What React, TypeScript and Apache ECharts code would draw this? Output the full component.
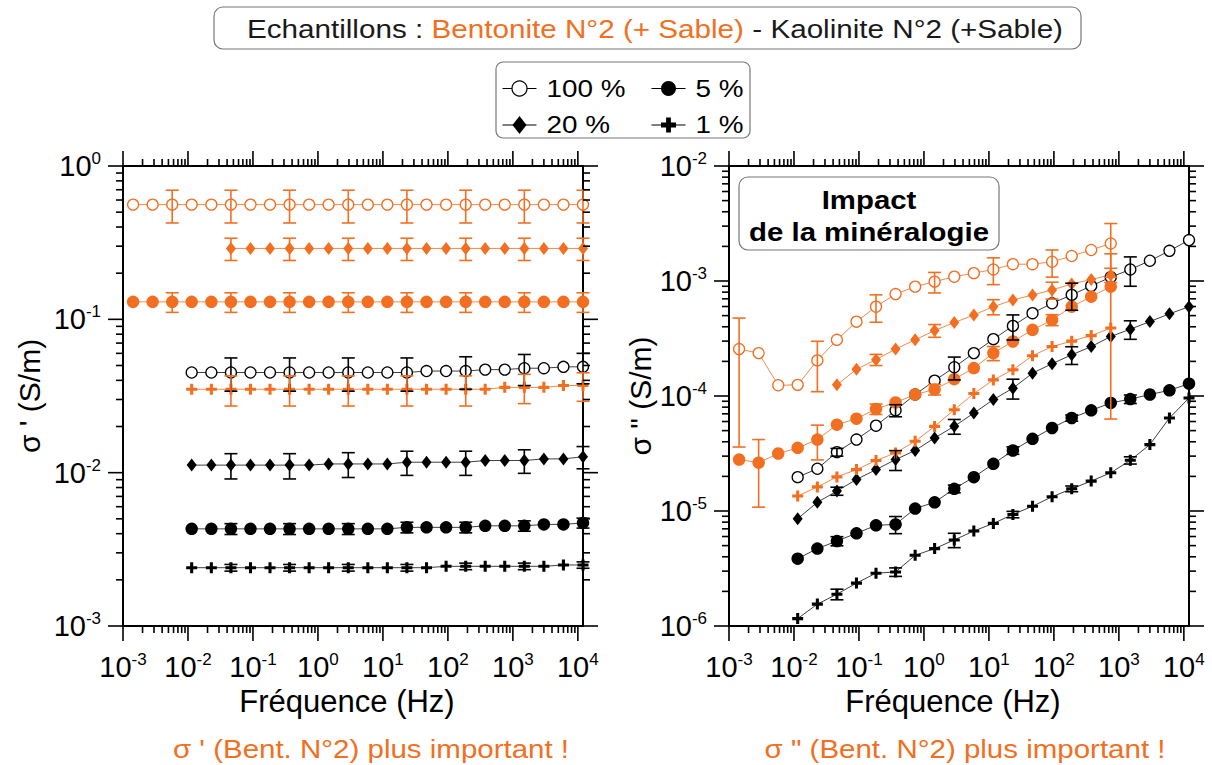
import React, { useEffect, useRef } from 'react';
import * as echarts from 'echarts';

const FONT = "'Liberation Sans', Arial, Helvetica, sans-serif";
const ORANGE = '#f26f21';
const ORANGE_LINE = '#f48a4c';
const BLACK = '#000000';
const BLACK_LINE = '#404040';
const n = null;

// Frequencies (Hz) of the measurement points
const FREQ = [0.00143, 0.00286, 0.00572, 0.0114, 0.0229, 0.0458, 0.0916, 0.183, 0.366, 0.732, 1.46, 2.93, 5.86, 11.7, 23.4, 46.9, 93.8, 188, 375, 750, 1500, 3000, 6000, 12000];

// ---- Left panel: sigma' (S/m)
const L_B100 = [0.56, 0.56, 0.56, 0.56, 0.56, 0.56, 0.56, 0.56, 0.56, 0.56, 0.56, 0.56, 0.56, 0.56, 0.56, 0.56, 0.56, 0.56, 0.56, 0.56, 0.56, 0.56, 0.56, 0.56];
const L_B100_E = [n, n, 0.135, n, n, 0.135, n, n, 0.135, n, n, 0.135, n, n, 0.135, n, n, 0.135, n, n, 0.135, n, n, 0.135];
const L_B20 = [n, n, n, n, n, 0.29, 0.29, 0.29, 0.29, 0.29, 0.29, 0.29, 0.29, 0.29, 0.29, 0.29, 0.29, 0.29, 0.29, 0.29, 0.29, 0.29, 0.29, 0.29];
const L_B20_E = [n, n, n, n, n, 0.048, n, n, 0.048, n, n, 0.048, n, n, 0.048, n, n, 0.048, n, n, 0.048, n, n, 0.048];
const L_B5 = [0.13, 0.13, 0.13, 0.13, 0.13, 0.13, 0.13, 0.13, 0.13, 0.13, 0.13, 0.13, 0.13, 0.13, 0.13, 0.13, 0.13, 0.13, 0.13, 0.13, 0.13, 0.13, 0.13, 0.13];
const L_B5_E = [n, n, 0.019, n, n, 0.019, n, n, 0.019, n, n, 0.019, n, n, 0.019, n, n, 0.019, n, n, 0.019, n, n, 0.019];
const L_B1 = [n, n, n, 0.035, 0.035, 0.035, 0.035, 0.035, 0.035, 0.035, 0.035, 0.035, 0.035, 0.035, 0.035, 0.035, 0.035, 0.035, 0.035, 0.036, 0.036, 0.036, 0.037, 0.037];
const L_B1_E = [n, n, n, n, n, 0.0078, n, n, 0.0078, n, n, 0.0078, n, n, 0.0078, n, n, 0.0078, n, n, 0.0078, n, n, 0.0078];
const L_K100 = [n, n, n, 0.045, 0.045, 0.045, 0.045, 0.045, 0.045, 0.045, 0.045, 0.045, 0.045, 0.045, 0.045, 0.046, 0.046, 0.046, 0.047, 0.047, 0.048, 0.048, 0.049, 0.049];
const L_K100_E = [n, n, n, n, n, 0.011, n, n, 0.011, n, n, 0.011, n, n, 0.011, n, n, 0.011, n, n, 0.011, n, n, 0.011];
const L_K20 = [n, n, n, 0.0112, 0.0112, 0.0112, 0.0112, 0.0112, 0.0112, 0.0112, 0.0114, 0.0114, 0.0114, 0.0114, 0.0117, 0.0117, 0.0117, 0.0117, 0.012, 0.012, 0.012, 0.0123, 0.0123, 0.0127];
const L_K20_E = [n, n, n, n, n, 0.0021, n, n, 0.0021, n, n, 0.0021, n, n, 0.0021, n, n, 0.0021, n, n, 0.0021, n, n, 0.0021];
const L_K5 = [n, n, n, 0.0043, 0.0043, 0.0043, 0.0043, 0.0043, 0.0043, 0.0043, 0.0043, 0.0043, 0.0043, 0.0043, 0.0044, 0.0044, 0.0044, 0.0044, 0.0045, 0.0045, 0.0045, 0.0046, 0.0046, 0.0047];
const L_K5_E = [n, n, n, n, n, 0.00035, n, n, 0.00035, n, n, 0.00035, n, n, 0.00035, n, n, 0.00035, n, n, 0.00035, n, n, 0.00035];
const L_K1 = [n, n, n, 0.0024, 0.0024, 0.0024, 0.0024, 0.0024, 0.0024, 0.0024, 0.0024, 0.0024, 0.0024, 0.0024, 0.0024, 0.0024, 0.00245, 0.00245, 0.00245, 0.00245, 0.00245, 0.00245, 0.0025, 0.0025];
const L_K1_E = [n, n, n, n, n, 0.00012, n, n, 0.00012, n, n, 0.00012, n, n, 0.00012, n, n, 0.00012, n, n, 0.00012, n, n, 0.00012];

// ---- Right panel: sigma'' (S/m)
const R_B100 = [2.56e-4, 2.36e-4, 1.24e-4, 1.25e-4, 2.04e-4, 3.08e-4, 4.43e-4, 5.98e-4, 7.7e-4, 8.93e-4, 9.87e-4, 1.09e-3, 1.17e-3, 1.26e-3, 1.4e-3, 1.4e-3, 1.47e-3, 1.65e-3, 1.86e-3, 2.12e-3, n, n, n, n];
const R_B100_E = [2.2e-4, n, n, n, 9.5e-5, n, n, 1.6e-4, n, n, 2.0e-4, n, n, 3.3e-4, n, n, 3.9e-4, n, n, 1.04e-3, n, n, n, n];
const R_B20 = [n, n, n, n, n, 1.25e-4, 1.71e-4, 2.07e-4, 2.56e-4, 3.08e-4, 3.71e-4, 4.35e-4, 5.07e-4, 5.98e-4, 6.84e-4, 7.56e-4, 8.36e-4, 9.42e-4, 1.03e-3, 1.13e-3, n, n, n, n];
const R_B20_E = [n, n, n, n, n, n, n, 2.3e-5, n, n, 4.7e-5, n, n, 9e-5, n, n, 1.4e-4, n, n, 1.6e-4, n, n, n, n];
const R_B5 = [2.8e-5, 2.63e-5, 3.16e-5, 3.54e-5, 4.18e-5, 5.63e-5, 6.35e-5, 7.71e-5, 8.8e-5, 1.03e-4, 1.14e-4, 1.4e-4, 1.75e-4, 2.36e-4, 2.98e-4, 3.76e-4, 4.59e-4, 5.98e-4, 7.31e-4, 8.93e-4, n, n, n, n];
const R_B5_E = [n, 1.55e-5, n, n, 1.4e-5, n, n, 8e-6, n, n, 1.2e-5, n, n, 3.3e-5, n, n, 5e-5, n, n, 8.3e-4, n, n, n, n];
const R_B1 = [n, n, n, 1.35e-5, 1.62e-5, 1.98e-5, 2.29e-5, 2.75e-5, 3.2e-5, 4.04e-5, 5.44e-5, 7.6e-5, 1.05e-4, 1.38e-4, 1.69e-4, 2.24e-4, 2.69e-4, 3.0e-4, 3.35e-4, 3.9e-4, n, n, n, n];
const R_K100 = [n, n, n, 1.97e-5, 2.33e-5, 3.25e-5, 4.18e-5, 5.52e-5, 7.5e-5, 1.03e-4, 1.36e-4, 1.78e-4, 2.36e-4, 3.12e-4, 4.07e-4, 5.25e-4, 6.4e-4, 7.57e-4, 9.06e-4, 1.08e-3, 1.26e-3, 1.5e-3, 1.83e-3, 2.27e-3];
const R_K100_E = [n, n, n, n, n, 2.5e-6, n, n, 9e-6, n, n, 4e-5, n, n, 1e-4, n, n, 2e-4, n, n, 3.6e-4, n, n, n];
const R_K20 = [n, n, n, 8.57e-6, 1.19e-5, 1.49e-5, 1.88e-5, 2.29e-5, 2.8e-5, 3.36e-5, 4.32e-5, 5.45e-5, 7.1e-5, 9.3e-5, 1.17e-4, 1.58e-4, 1.91e-4, 2.28e-4, 2.69e-4, 3.29e-4, 3.81e-4, 4.44e-4, 5.18e-4, 5.98e-4];
const R_K20_E = [n, n, n, n, n, 1.2e-6, n, n, 5.5e-6, n, n, 8e-6, n, n, 2.3e-5, n, n, 4e-5, n, n, 7e-5, n, n, n];
const R_K5 = [n, n, n, 3.85e-6, 4.71e-6, 5.48e-6, 6.4e-6, 7.5e-6, 7.65e-6, 1.05e-5, 1.19e-5, 1.56e-5, 1.97e-5, 2.57e-5, 3.36e-5, 4.24e-5, 5.27e-5, 6.44e-5, 7.5e-5, 8.7e-5, 9.4e-5, 1.03e-4, 1.12e-4, 1.28e-4];
const R_K5_E = [n, n, n, n, n, 5e-7, n, n, 1.3e-6, n, n, 1.2e-6, n, n, 2.5e-6, n, n, 4e-6, n, n, 8e-6, n, n, n];
const R_K1 = [n, n, n, 1.16e-6, 1.55e-6, 1.89e-6, 2.36e-6, 2.88e-6, 2.95e-6, 4.12e-6, 4.71e-6, 5.6e-6, 6.7e-6, 7.8e-6, 9.33e-6, 1.1e-5, 1.33e-5, 1.56e-5, 1.82e-5, 2.15e-5, 2.76e-5, 3.78e-5, 6.44e-5, 9.6e-5];
const R_K1_E = [n, n, n, n, n, 2e-7, n, n, 2.5e-7, n, n, 8e-7, n, n, 6e-7, n, n, 9e-7, n, n, 2e-6, n, n, n];

// Axis ranges
const X_MIN = 0.001;
const X_MAX = 12000;
const LEFT_Y = [0.001, 1];
const RIGHT_Y = [0.000001, 0.01];

const CROSS = 'path://M3.6,0H6.4V3.6H10V6.4H6.4V10H3.6V6.4H0V3.6H3.6Z';

function marker(kind: string, color: string) {
  if (kind === 'open') return { symbol: 'circle', symbolSize: 11, itemStyle: { color: '#ffffff', borderColor: color, borderWidth: 1.3 } };
  if (kind === 'filled') return { symbol: 'circle', symbolSize: 12.5, itemStyle: { color, borderWidth: 0 } };
  if (kind === 'diamond') return { symbol: 'diamond', symbolSize: [10, 13], itemStyle: { color, borderWidth: 0 } };
  return { symbol: CROSS, symbolSize: 11, itemStyle: { color, borderWidth: 0 } };
}

const LEFT_SERIES = [
  { name: 'K 1 %', kind: 'cross', color: BLACK, vals: L_K1, err: L_K1_E },
  { name: 'K 5 %', kind: 'filled', color: BLACK, vals: L_K5, err: L_K5_E },
  { name: 'K 20 %', kind: 'diamond', color: BLACK, vals: L_K20, err: L_K20_E },
  { name: 'K 100 %', kind: 'open', color: BLACK, vals: L_K100, err: L_K100_E },
  { name: 'B 1 %', kind: 'cross', color: ORANGE, vals: L_B1, err: L_B1_E },
  { name: 'B 5 %', kind: 'filled', color: ORANGE, vals: L_B5, err: L_B5_E },
  { name: 'B 20 %', kind: 'diamond', color: ORANGE, vals: L_B20, err: L_B20_E },
  { name: 'B 100 %', kind: 'open', color: ORANGE, vals: L_B100, err: L_B100_E },
];

const RIGHT_SERIES = [
  { name: 'K 1 %', kind: 'cross', color: BLACK, vals: R_K1, err: R_K1_E },
  { name: 'K 5 %', kind: 'filled', color: BLACK, vals: R_K5, err: R_K5_E },
  { name: 'K 20 %', kind: 'diamond', color: BLACK, vals: R_K20, err: R_K20_E },
  { name: 'K 100 %', kind: 'open', color: BLACK, vals: R_K100, err: R_K100_E },
  { name: 'B 1 %', kind: 'cross', color: ORANGE, vals: R_B1, err: null },
  { name: 'B 5 %', kind: 'filled', color: ORANGE, vals: R_B5, err: R_B5_E },
  { name: 'B 20 %', kind: 'diamond', color: ORANGE, vals: R_B20, err: R_B20_E },
  { name: 'B 100 %', kind: 'open', color: ORANGE, vals: R_B100, err: R_B100_E },
];

function points(vals: any[]) {
  const out: any[] = [];
  FREQ.forEach((f, i) => { if (vals[i] != null) out.push([f, vals[i]]); });
  return out;
}
function errPoints(vals: any[], err: any[]) {
  const out: any[] = [];
  FREQ.forEach((f, i) => {
    if (vals[i] != null && err && err[i] != null) out.push([f, vals[i] - err[i], vals[i] + err[i]]);
  });
  return out;
}

function errorSeries(name: string, xi: number, yi: number, data: any[], color: string) {
  return {
    type: 'custom', name: name + ' err', xAxisIndex: xi, yAxisIndex: yi, data, silent: true, clip: false, z: 4,
    encode: { x: 0, y: [1, 2] },
    renderItem: (params: any, api: any) => {
      const x = api.value(0);
      const top = api.coord([x, api.value(2)]);
      const bot = api.coord([x, api.value(1)]);
      const w = 6.5;
      const st = () => ({ stroke: color, lineWidth: 1.6 });
      return {
        type: 'group',
        children: [
          { type: 'line', shape: { x1: top[0], y1: top[1], x2: bot[0], y2: bot[1] }, style: st() },
          { type: 'line', shape: { x1: top[0] - w, y1: top[1], x2: top[0] + w, y2: top[1] }, style: st() },
          { type: 'line', shape: { x1: bot[0] - w, y1: bot[1], x2: bot[0] + w, y2: bot[1] }, style: st() },
        ],
      };
    },
  };
}

function logTicks(loExp: number, hiExp: number, maxVal: number) {
  const t: any[] = [];
  for (let k = loExp; k <= hiExp; k++) {
    const base = Math.pow(10, k);
    t.push([base, true]);
    if (k < hiExp) {
      for (let m = 2; m <= 9; m++) {
        const v = m * base;
        if (v <= maxVal) t.push([v, false]);
      }
    }
  }
  return t;
}

function tickSeries(xi: number, yi: number, yRange: number[]) {
  const xTicks = logTicks(-3, 4, X_MAX);
  const yTicks = logTicks(Math.round(Math.log10(yRange[0])), Math.round(Math.log10(yRange[1])), yRange[1]);
  return {
    type: 'custom', xAxisIndex: xi, yAxisIndex: yi, silent: true, clip: false, z: 6,
    data: [[X_MIN, yRange[0]]],
    renderItem: (params: any, api: any) => {
      const bl = api.coord([X_MIN, yRange[0]]);
      const tr = api.coord([X_MAX, yRange[1]]);
      const ch: any[] = [];
      const seg = (x1: number, y1: number, x2: number, y2: number) =>
        ch.push({ type: 'line', shape: { x1, y1, x2, y2 }, style: { stroke: '#000', lineWidth: 1.6 } });
      xTicks.forEach(([v, major]) => {
        const px = api.coord([v, yRange[0]])[0];
        const L = major ? 15 : 7;
        seg(px, bl[1], px, bl[1] + L);
        seg(px, tr[1], px, tr[1] - L);
      });
      yTicks.forEach(([v, major]) => {
        const py = api.coord([X_MIN, v])[1];
        const L = major ? 15 : 7;
        seg(bl[0], py, bl[0] - L, py);
        seg(tr[0], py, tr[0] + L, py);
      });
      return { type: 'group', children: ch };
    },
  };
}

function powLabel(v: number) {
  const e = Math.log10(v);
  const r = Math.round(e);
  if (Math.abs(e - r) > 1e-6) return '';
  return `{b|10}{s|${r === 0 ? 0 : r}}`;
}

const labelRich = {
  b: { fontSize: 29, fontFamily: FONT, color: '#000', lineHeight: 32 },
  s: { fontSize: 17, fontFamily: FONT, color: '#000', lineHeight: 17, verticalAlign: 'top' },
};

const axisLine = { show: true, onZero: false, lineStyle: { color: '#000', width: 2 } };
const nameStyle = { fontSize: 30, fontFamily: FONT, color: '#000' };

function xAxes(g: number) {
  return [
    {
      gridIndex: g, type: 'log', logBase: 10, min: X_MIN, max: X_MAX, position: 'bottom',
      name: 'Fréquence (Hz)', nameLocation: 'middle', nameGap: 57,
      nameTextStyle: { fontSize: 31, fontFamily: FONT, color: '#000', padding: [0, 12, 0, 0] },
      axisLine, axisTick: { show: false }, minorTick: { show: false }, splitLine: { show: false },
      axisLabel: { formatter: powLabel, margin: 25, rich: labelRich },
    },
    {
      gridIndex: g, type: 'log', logBase: 10, min: X_MIN, max: X_MAX, position: 'top',
      axisLine, axisTick: { show: false }, splitLine: { show: false }, axisLabel: { show: false },
    },
  ];
}

function yAxes(g: number, range: number[], name: string, gap: number) {
  return [
    {
      gridIndex: g, type: 'log', logBase: 10, min: range[0], max: range[1], position: 'left',
      name, nameLocation: 'middle', nameGap: gap, nameTextStyle: nameStyle,
      axisLine, axisTick: { show: false }, minorTick: { show: false }, splitLine: { show: false },
      axisLabel: { formatter: powLabel, margin: 22, rich: labelRich },
    },
    {
      gridIndex: g, type: 'log', logBase: 10, min: range[0], max: range[1], position: 'right',
      axisLine, axisTick: { show: false }, splitLine: { show: false }, axisLabel: { show: false },
    },
  ];
}

function panelSeries(list: any[], xi: number, yi: number) {
  const out: any[] = [];
  list.forEach((s) => {
    const m = marker(s.kind, s.color);
    out.push({
      type: 'line', name: s.name, xAxisIndex: xi, yAxisIndex: yi, data: points(s.vals),
      symbol: m.symbol, symbolSize: m.symbolSize, itemStyle: m.itemStyle, showSymbol: true,
      lineStyle: { color: s.color === ORANGE ? ORANGE_LINE : BLACK_LINE, width: 1 },
      clip: false, silent: true, z: 3,
    });
    const e = errPoints(s.vals, s.err);
    if (e.length) out.push(errorSeries(s.name, xi, yi, e, s.color));
  });
  return out;
}

function crossPts(cx: number, cy: number, h: number, t: number) {
  return [
    [cx - t, cy - h], [cx + t, cy - h], [cx + t, cy - t], [cx + h, cy - t], [cx + h, cy + t], [cx + t, cy + t],
    [cx + t, cy + h], [cx - t, cy + h], [cx - t, cy + t], [cx - h, cy + t], [cx - h, cy - t], [cx - t, cy - t],
  ];
}

function legendItem(x: number, y: number, kind: string, label: string) {
  const els: any[] = [
    { type: 'line', z: 21, shape: { x1: x - 17, y1: y, x2: x + 17, y2: y }, style: { stroke: '#000', lineWidth: 1.2 } },
  ];
  if (kind === 'open') els.push({ type: 'circle', z: 22, shape: { cx: x, cy: y, r: 7.5 }, style: { fill: '#fff', stroke: '#000', lineWidth: 1.2 } });
  if (kind === 'filled') els.push({ type: 'circle', z: 22, shape: { cx: x, cy: y, r: 7.5 }, style: { fill: '#000' } });
  if (kind === 'diamond') els.push({ type: 'polygon', z: 22, shape: { points: [[x, y - 9], [x + 7, y], [x, y + 9], [x - 7, y]] }, style: { fill: '#000' } });
  if (kind === 'cross') els.push({ type: 'polygon', z: 22, shape: { points: crossPts(x, y, 7.5, 2.4) }, style: { fill: '#000' } });
  els.push({
    type: 'text', z: 22, x: x + 27, y, scaleX: 1.16,
    style: { text: label, fill: '#000', fontSize: 24, fontFamily: FONT, align: 'left', textAlign: 'left', verticalAlign: 'middle', textVerticalAlign: 'middle' },
  });
  return els;
}

function textEl(x: number, y: number, text: string, size: number, color: string, sx: number, weight = 'normal') {
  return {
    type: 'text', z: 22, x, y, scaleX: sx,
    style: { text, fill: color, fontSize: size, fontWeight: weight, fontFamily: FONT, align: 'center', textAlign: 'center', verticalAlign: 'middle', textVerticalAlign: 'middle' },
  };
}

export default function App() {
  const ref = useRef<HTMLDivElement>(null);
  useEffect(() => {
    if (!ref.current) return;
    const chart = echarts.init(ref.current, null, { renderer: 'svg' });
    const graphic: any[] = [
      { type: 'rect', z: 20, shape: { x: 214, y: 7, width: 867, height: 42, r: 9 }, style: { fill: '#fff', stroke: '#777', lineWidth: 1.2 } },
      {
        type: 'text', z: 22, x: 655, y: 29, scaleX: 1.14,
        style: {
          text: '{k|Echantillons : }{o|Bentonite N°2 (+ Sable)}{k| - Kaolinite N°2 (+Sable)}',
          rich: {
            k: { fill: '#1a1a1a', fontSize: 26, fontFamily: FONT },
            o: { fill: ORANGE, fontSize: 26, fontFamily: FONT },
          },
          align: 'center', textAlign: 'center', verticalAlign: 'middle', textVerticalAlign: 'middle',
        },
      },
      { type: 'rect', z: 20, shape: { x: 496, y: 62, width: 254, height: 76, r: 7 }, style: { fill: '#fff', stroke: '#777', lineWidth: 1.2 } },
      ...legendItem(519.5, 88.5, 'open', '100 %'),
      ...legendItem(668.5, 88.5, 'filled', '5 %'),
      ...legendItem(519.5, 125, 'diamond', '20 %'),
      ...legendItem(668.5, 125, 'cross', '1 %'),
      { type: 'rect', z: 20, shape: { x: 739, y: 177, width: 260, height: 73, r: 9 }, style: { fill: '#fff', stroke: '#777', lineWidth: 1.2 } },
      textEl(869, 200, 'Impact', 26, '#000', 1.13, 'bold'),
      textEl(869, 232, 'de la minéralogie', 26, '#000', 1.13, 'bold'),
      textEl(371, 749, "σ ' (Bent. N°2) plus important !", 25, ORANGE, 1.18),
      textEl(965, 749, 'σ " (Bent. N°2) plus important !', 25, ORANGE, 1.18),
    ];
    chart.setOption({
      animation: false,
      backgroundColor: '#ffffff',
      textStyle: { fontFamily: FONT },
      grid: [
        { left: 123, top: 166, width: 460, height: 460, containLabel: false, outerBoundsMode: 'none' },
        { left: 729, top: 166, width: 460, height: 460, containLabel: false, outerBoundsMode: 'none' },
      ],
      xAxis: [...xAxes(0), ...xAxes(1)],
      yAxis: [...yAxes(0, LEFT_Y, "σ ' (S/m)", 79), ...yAxes(1, RIGHT_Y, 'σ " (S/m)', 67)],
      series: [
        ...panelSeries(LEFT_SERIES, 0, 0),
        ...panelSeries(RIGHT_SERIES, 2, 2),
        tickSeries(0, 0, LEFT_Y),
        tickSeries(2, 2, RIGHT_Y),
      ],
      graphic,
    });
    return () => chart.dispose();
  }, []);
  return <div ref={ref} style={{ position: 'absolute', left: 0, top: 0, width: 1212, height: 765, background: '#fff' }} />;
}
